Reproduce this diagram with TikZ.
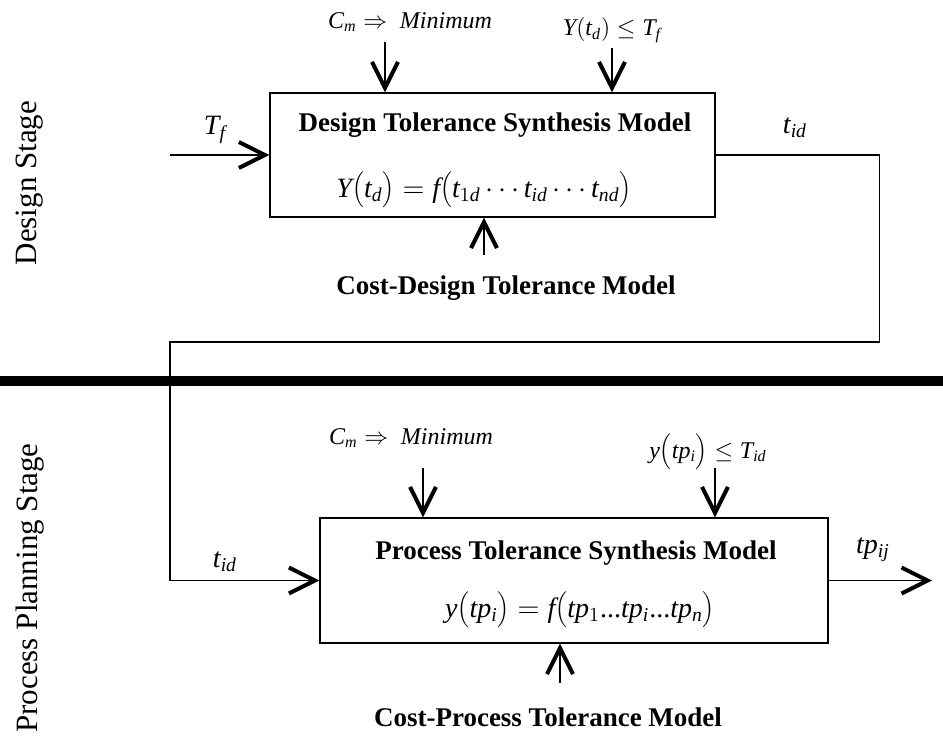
\documentclass[tikz,border=0pt]{standalone}
\usepackage{fontspec}
\setmainfont{Liberation Serif}
\DeclareSymbolFont{letters}{TU}{\rmdefault}{m}{it}
\DeclareSymbolFont{operators}{TU}{\rmdefault}{m}{n}
\usetikzlibrary{arrows.meta}

\begin{document}
\begin{tikzpicture}[
    x=0.5pt, y=-0.5pt,
    every node/.style={inner sep=1pt},
    flow/.style={line width=0.6pt,-{Straight Barb[length=13pt,width=13pt,line width=2pt]}},
    model/.style={draw,line width=0.6pt,inner sep=0pt},
    title/.style={font=\fontsize{13.5}{16}\selectfont\bfseries},
    lbl/.style={font=\fontsize{12}{14}\selectfont},
    sig/.style={font=\fontsize{14}{16}\selectfont},
    stage/.style={font=\fontsize{15.5}{18}\selectfont,rotate=90}
  ]
  \useasboundingbox (0,0) rectangle (943,736);

  % stages
  \node[stage] (design) at (30,183) {Design Stage};
  \node[stage] (process) at (30,588) {Process Planning Stage};
  \draw[line width=5pt] (0,381) -- (943,381);

  % design stage
  \node[model,minimum width=222.5pt,minimum height=62pt] (dts) at (492.5,155) {};
  \node[title] (dtstitle) at (495,125) {Design Tolerance Synthesis Model};
  \node[sig] (dtseq) at (484,190) {$Y\!\left(\rule[-6pt]{0pt}{19pt}t_{d}\right) = f\!\left(\rule[-6pt]{0pt}{19pt}t_{1d}\cdots t_{id}\cdots t_{nd}\right)$};
  \node[lbl] (cmtoplbl) at (410,22) {$C_m \Rightarrow\ \mathit{Minimum}$};
  \node[lbl] (ytoplbl) at (612,30) {$Y\!\left(\rule[-2pt]{0pt}{11pt}t_d\right) \le T_f$};
  \node[title] (costdlbl) at (506,288) {Cost-Design Tolerance Model};
  \node[sig] (tflbl) at (215,130) {$T_f$};
  \node[sig] (tidtop) at (795,128) {$t_{id}$};

  \coordinate (tf) at (170,155);
  \coordinate (cmtop) at (385,42);
  \coordinate (ytop) at (612,48);
  \coordinate (costd) at (484,255);

  \draw[flow] (tf) -- (dts.west);
  \draw[flow] (cmtop) -- (cmtop |- dts.north);
  \draw[flow] (ytop) -- (ytop |- dts.north);
  \draw[flow] (costd) -- (costd |- dts.south);

  % process planning stage
  \node[model,minimum width=254pt,minimum height=62.5pt] (pts) at (574,580.5) {};
  \node[title] (ptstitle) at (576,553) {Process Tolerance Synthesis Model};
  \node[sig] (ptseq) at (580,610) {$y\!\left(\rule[-5pt]{0pt}{17pt}tp_{i}\right) = f\!\left(\rule[-5pt]{0pt}{17pt}tp_{1}\mbox{...}tp_{i}\mbox{...}tp_{n}\right)$};
  \node[lbl] (cmbotlbl) at (411,438) {$C_m \Rightarrow\ \mathit{Minimum}$};
  \node[lbl] (ybotlbl) at (708,452) {$y\!\left(\rule[-3pt]{0pt}{13pt}tp_i\right) \le T_{id}$};
  \node[title] (costplbl) at (548,717) {Cost-Process Tolerance Model};
  \node[sig] (tidbot) at (225,562) {$t_{id}$};
  \node[sig] (tplbl) at (873,550) {$tp_{ij}$};

  \coordinate (cmbot) at (423,468);
  \coordinate (ybot) at (715,468);
  \coordinate (costp) at (560,683);
  \coordinate (tpout) at (932,580.5);

  \draw[flow] (cmbot) -- (cmbot |- pts.north);
  \draw[flow] (ybot) -- (ybot |- pts.north);
  \draw[flow] (costp) -- (costp |- pts.south);
  \draw[flow] (pts.east) -- (tpout);

  % tolerance hand-over
  \draw[flow] (dts.east) -- ++(164,0) |- (170,342) |- (pts.west);
\end{tikzpicture}
\end{document}
